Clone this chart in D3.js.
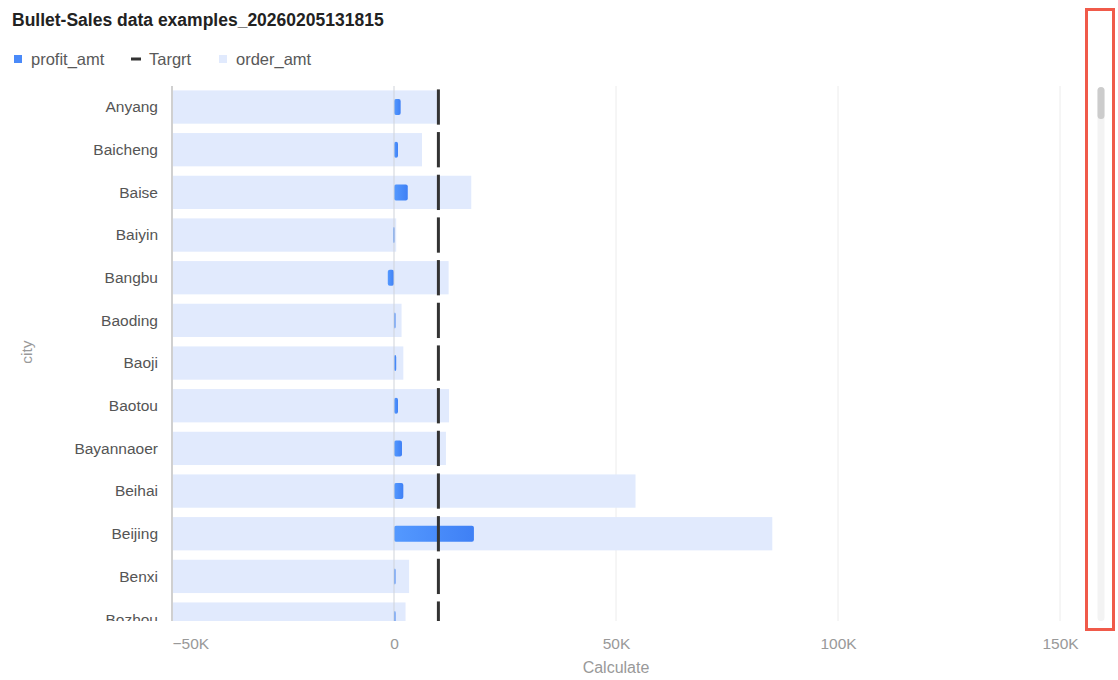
<!DOCTYPE html>
<html>
<head>
<meta charset="utf-8">
<script src="https://cdn.jsdelivr.net/npm/d3@7"></script>
<style>
  body { margin: 0; background: #fff; }
  svg { font-family: "Liberation Sans", Arial, sans-serif; }
</style>
</head>
<body>
<div id="chart"></div>
<script>
const WIDTH = 1118;
const HEIGHT = 680;

// values
const cities = ["Anyang", "Baicheng", "Baise", "Baiyin", "Bangbu", "Baoding", "Baoji",
  "Baotou", "Bayannaoer", "Beihai", "Beijing", "Benxi", "Bozhou"];
const orderAmt = [9800, 6300, 17400, 500, 12300, 1700, 2100, 12400, 11700, 54400, 85200, 3400, 2600];
const profitAmt = [1500, 900, 3100, -200, -1400, 300, 500, 900, 1800, 2100, 18000, 300, 300];
const target = [10000, 10000, 10000, 10000, 10000, 10000, 10000, 10000, 10000, 10000, 10000, 10000, 10000];
const xTicks = [-50000, 0, 50000, 100000, 150000];

const plot = { left: 172, right: 1060, top: 86, bottom: 621 };
const step = 42.67;

const svg = d3.select("#chart").append("svg")
  .attr("width", WIDTH)
  .attr("height", HEIGHT);

const x = d3.scaleLinear().domain([-50000, 150000]).range([plot.left, plot.right]);
const y = d3.scaleBand()
  .domain(cities)
  .range([85.7, 85.7 + step * cities.length])
  .paddingInner(0.22)
  .paddingOuter(0.11);

// title
svg.append("text")
  .attr("x", 12).attr("y", 26)
  .attr("font-size", 17.5).attr("font-weight", "bold")
  .attr("fill", "#222")
  .text("Bullet-Sales data examples_20260205131815");

// legend
const legend = svg.append("g").attr("font-size", 16.5).attr("fill", "#595959");
legend.append("rect").attr("x", 14).attr("y", 55).attr("width", 8).attr("height", 8).attr("fill", "#4a8af9");
legend.append("text").attr("x", 31).attr("y", 65).text("profit_amt");
legend.append("rect").attr("x", 131).attr("y", 57.5).attr("width", 10).attr("height", 3).attr("fill", "#333");
legend.append("text").attr("x", 149).attr("y", 65).text("Targrt");
legend.append("rect").attr("x", 219).attr("y", 55).attr("width", 8).attr("height", 8).attr("fill", "#e1eafd");
legend.append("text").attr("x", 236).attr("y", 65).text("order_amt");

// clip
svg.append("clipPath").attr("id", "clip")
  .append("rect")
  .attr("x", 0).attr("y", plot.top)
  .attr("width", WIDTH).attr("height", plot.bottom - plot.top);

// grid
svg.append("g").selectAll("line")
  .data(xTicks.filter(d => d > 0))
  .join("line")
  .attr("x1", d => x(d)).attr("x2", d => x(d))
  .attr("y1", plot.top).attr("y2", plot.bottom)
  .attr("stroke", "#ececec");

const body = svg.append("g").attr("clip-path", "url(#clip)");

// order_amt range bars
body.selectAll(".order")
  .data(cities)
  .join("rect")
  .attr("class", "order")
  .attr("x", x(-50000))
  .attr("y", d => y(d))
  .attr("width", (d, i) => x(orderAmt[i]) - x(-50000))
  .attr("height", y.bandwidth())
  .attr("fill", "#e1eafd");

// zero line
svg.append("line")
  .attr("x1", x(0)).attr("x2", x(0))
  .attr("y1", plot.top).attr("y2", plot.bottom)
  .attr("stroke", "#cfd3da");

// profit bars
const grad = svg.append("defs").append("linearGradient").attr("id", "pg");
grad.append("stop").attr("offset", "0%").attr("stop-color", "#5499ff");
grad.append("stop").attr("offset", "100%").attr("stop-color", "#3f80f5");

const profitH = 16;
body.selectAll(".profit")
  .data(cities)
  .join("rect")
  .attr("class", "profit")
  .attr("x", (d, i) => Math.min(x(0), x(profitAmt[i])))
  .attr("y", d => y(d) + (y.bandwidth() - profitH) / 2)
  .attr("width", (d, i) => Math.max(1.5, Math.abs(x(profitAmt[i]) - x(0))))
  .attr("height", profitH)
  .attr("rx", 2)
  .attr("fill", "url(#pg)");

// targets
body.selectAll(".target")
  .data(cities)
  .join("rect")
  .attr("class", "target")
  .attr("x", (d, i) => x(target[i]) - 1.5)
  .attr("y", d => y(d) - 1)
  .attr("width", 3)
  .attr("height", y.bandwidth() + 2)
  .attr("fill", "#333");

// left axis line
svg.append("line")
  .attr("x1", plot.left).attr("x2", plot.left)
  .attr("y1", plot.top).attr("y2", plot.bottom)
  .attr("stroke", "#d0d0d0").attr("stroke-width", 2);

// y labels
const yLabels = svg.append("g").attr("clip-path", "url(#clip)");
yLabels.selectAll("text")
  .data(cities)
  .join("text")
  .attr("x", 158)
  .attr("y", d => y(d) + y.bandwidth() / 2)
  .attr("dy", "0.35em")
  .attr("text-anchor", "end")
  .attr("font-size", 15.5)
  .attr("fill", "#555")
  .text(d => d);

svg.append("text")
  .attr("transform", "translate(32,352) rotate(-90)")
  .attr("text-anchor", "middle")
  .attr("font-size", 15.5)
  .attr("fill", "#999")
  .text("city");

// x axis
const xAxis = d3.axisBottom(x)
  .tickValues(xTicks)
  .tickSize(0)
  .tickPadding(0)
  .tickFormat(d => d === 0 ? "0" : (d < 0 ? "\u2212" : "") + Math.abs(d) / 1000 + "K");

const gx = svg.append("g")
  .attr("transform", `translate(0,${plot.bottom})`)
  .call(xAxis);
gx.select(".domain").remove();
gx.selectAll("text")
  .attr("y", 17)
  .attr("font-size", 15.5)
  .attr("font-family", "Liberation Sans, Arial, sans-serif")
  .attr("fill", "#999")
  .attr("text-anchor", (d, i) => i === 0 ? "start" : "middle");

svg.append("text")
  .attr("x", 616).attr("y", 673)
  .attr("text-anchor", "middle")
  .attr("font-size", 16)
  .attr("fill", "#999")
  .text("Calculate");

// scrollbar
svg.append("rect")
  .attr("x", 1086.5).attr("y", 9.5)
  .attr("width", 27).attr("height", 620)
  .attr("fill", "none")
  .attr("stroke", "#f05a4a").attr("stroke-width", 3);
svg.append("rect")
  .attr("x", 1097.5).attr("y", 87)
  .attr("width", 7).attr("height", 534)
  .attr("rx", 3.5)
  .attr("fill", "#f3f3f3");
svg.append("rect")
  .attr("x", 1097.5).attr("y", 87)
  .attr("width", 7).attr("height", 32)
  .attr("rx", 3.5)
  .attr("fill", "#cccccc");
</script>
</body>
</html>
